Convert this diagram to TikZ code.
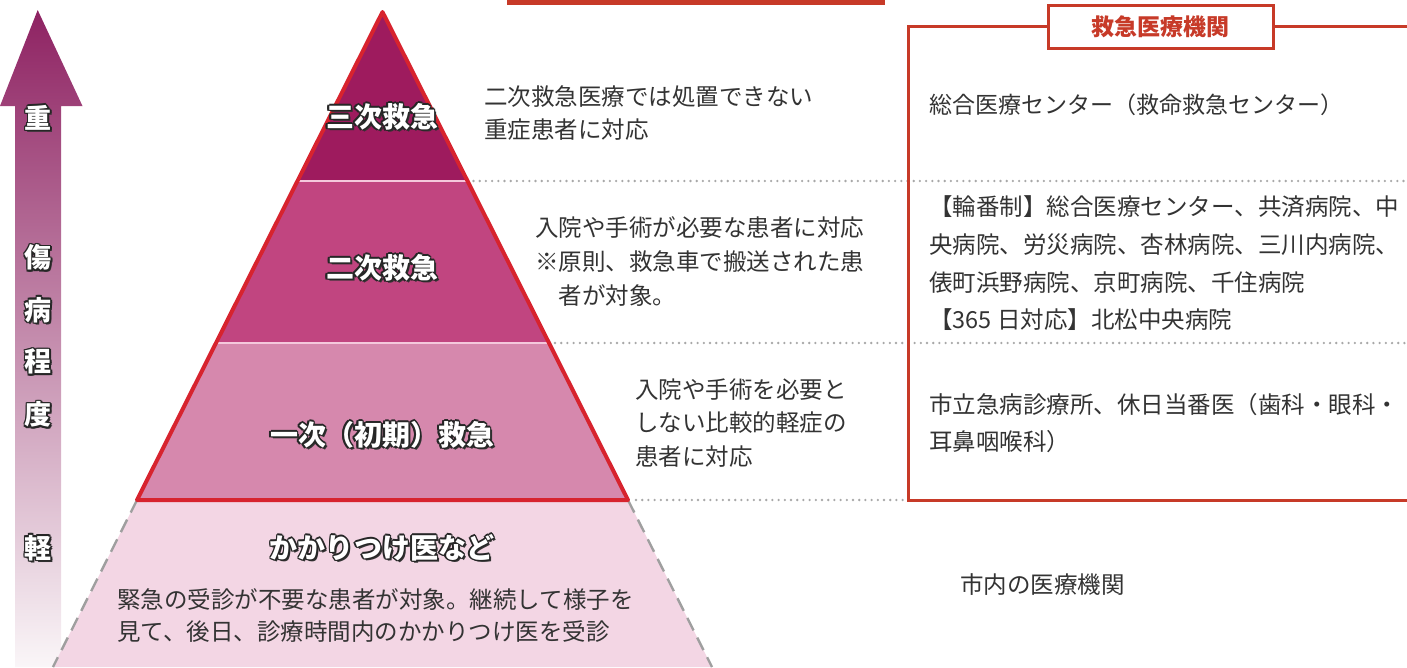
\documentclass[tikz,border=0pt]{standalone}
\usepackage{fontspec}
\newfontfamily\jp{Noto Sans CJK JP}
\usetikzlibrary{calc}
\definecolor{pyrred}{HTML}{D7232E}
\definecolor{boxred}{HTML}{C73A28}
\definecolor{tierA}{HTML}{9E1B5E}
\definecolor{tierB}{HTML}{C14580}
\definecolor{tierC}{HTML}{D688AD}
\definecolor{tierD}{HTML}{F3D6E4}
\definecolor{sepc}{HTML}{F4C8DC}
\definecolor{txt}{HTML}{333333}
\definecolor{arrtop}{HTML}{8E2262}
\definecolor{arrmid}{HTML}{BA7297}
\definecolor{arrbot}{HTML}{FAF6F8}
\definecolor{dotc}{HTML}{A8A8A8}
\newcommand\olbl[1]{{\setbox0=\hbox{#1}%
 \rlap{\color{black!80}\kern2pt\lower2pt\copy0}%
 \rlap{\color{black!85}\kern1.5pt\copy0}%
 \rlap{\color{black!85}\kern-1.5pt\copy0}%
 \rlap{\color{black!85}\raise1.5pt\copy0}%
 \rlap{\color{black!85}\lower1.5pt\copy0}%
 \rlap{\color{black!85}\kern1.1pt\raise1.1pt\copy0}%
 \rlap{\color{black!85}\kern-1.1pt\raise1.1pt\copy0}%
 \rlap{\color{black!85}\kern1.1pt\lower1.1pt\copy0}%
 \rlap{\color{black!85}\kern-1.1pt\lower1.1pt\copy0}%
 {\color{white}\box0}}}
\tikzset{
  tierlbl/.style={inner sep=0pt, font=\jp\bfseries\fontsize{28}{30}\selectfont},
  sidelbl/.style={inner sep=0pt, font=\jp\bfseries\fontsize{27}{29}\selectfont},
  body/.style={inner sep=0pt, anchor=west, align=left, text=txt},
  dotline/.style={dotc, line width=2.6pt, line cap=round, dash pattern=on 0pt off 6.2pt},
}
\begin{document}
\begin{tikzpicture}[x=1pt,y=-1pt]
\useasboundingbox (0,0) rectangle (1407,667);
% geometry of pyramid
\coordinate (A) at (382.5,12);
\coordinate (BL) at (137,500);
\coordinate (BR) at (628,500);
\coordinate (L1) at ($(A)!0.3463!(BL)$);
\coordinate (R1) at ($(A)!0.3463!(BR)$);
\coordinate (L2) at ($(A)!0.6783!(BL)$);
\coordinate (R2) at ($(A)!0.6783!(BR)$);
\coordinate (GL) at ($(A)!1.3422!(BL)$);
\coordinate (GR) at ($(A)!1.3422!(BR)$);
% left arrow
\shade[top color=arrtop, middle color=arrmid, bottom color=arrbot]
  (37.7,10) -- (82.5,106) -- (61,106) -- (61,667) -- (15,667) -- (15,106) -- (0,106) -- cycle;
\node[sidelbl] (s1) at (38,118) {\olbl{重}};
\node[sidelbl] (s2) at (38,258) {\olbl{傷}};
\node[sidelbl] (s3) at (38,310) {\olbl{病}};
\node[sidelbl] (s4) at (38,362) {\olbl{程}};
\node[sidelbl] (s5) at (38,415) {\olbl{度}};
\node[sidelbl] (s6) at (38,548) {\olbl{軽}};
% top bar
\fill[boxred] (507,0) rectangle (885,4.5);
% base region
\fill[tierD] (BL) -- (BR) -- (GR) -- (GL) -- cycle;
\draw[gray!75, line width=2.4pt, dash pattern=on 14pt off 8pt] (BL) -- (GL);
\draw[gray!75, line width=2.4pt, dash pattern=on 14pt off 8pt] (BR) -- (GR);
% tiers
\fill[tierA] (A) -- (R1) -- (L1) -- cycle;
\fill[tierB] (L1) -- (R1) -- (R2) -- (L2) -- cycle;
\fill[tierC] (L2) -- (R2) -- (BR) -- (BL) -- cycle;
\draw[sepc, line width=2pt] (L1) -- (R1);
\draw[sepc, line width=2pt] (L2) -- (R2);
\draw[pyrred, line width=4pt, line join=round] (A) -- (BR) -- (BL) -- cycle;
% dotted separators
\draw[dotline] ($(R1)+(6,0)$) -- (1407,181);
\draw[dotline] ($(R2)+(6,0)$) -- (1407,343);
\draw[dotline] ($(BR)+(8,0)$) -- (906,500);
% tier labels
\node[tierlbl] (t3) at (382,117) {\olbl{三次救急}};
\node[tierlbl] (t2) at (382,268) {\olbl{二次救急}};
\node[tierlbl] (t1) at (382,435) {\olbl{一次（初期）救急}};
\node[tierlbl] (t0) at (382,548) {\olbl{かかりつけ医など}};
% descriptions
\node[body, font=\jp\fontsize{23.5}{33}\selectfont] (d3) at (484,113.5)
  {二次救急医療では処置できない\\重症患者に対応};
\node[body, font=\jp\fontsize{23.5}{34}\selectfont] (d2) at (535,262)
  {入院や手術が必要な患者に対応\\※原則、救急車で搬送された患\\\hspace*{1em}者が対象。};
\node[body, font=\jp\fontsize{23.5}{33.5}\selectfont] (d1) at (635,423)
  {入院や手術を必要と\\しない比較的軽症の\\患者に対応};
\node[body, font=\jp\fontsize{23.5}{32}\selectfont] (d0) at (117,616)
  {緊急の受診が不要な患者が対象。継続して様子を\\見て、後日、診療時間内のかかりつけ医を受診};
% emergency institutions box
\node[draw=boxred, line width=3pt, fill=white, minimum width=225pt, minimum height=43pt, inner sep=0pt,
      text=boxred, font=\jp\bfseries\fontsize{23}{25}\selectfont] (title) at (1160.5,26.5) {救急医療機関};
\coordinate (boxTL) at (908,26.5);
\coordinate (boxBL) at (908,500);
\coordinate (boxBR) at (1410,500);
\coordinate (boxTR) at (1410,26.5);
\draw[boxred, line width=3pt] (title.west) -- (boxTL) -- (boxBL) -- (boxBR);
\draw[boxred, line width=3pt] (title.east) -- (boxTR);
\node[body, font=\jp\fontsize{23}{33}\selectfont] (r3) at (929,105)
  {総合医療センター（救命救急センター）};
\node[body, font=\jp\fontsize{23.5}{37.7}\selectfont] (r2) at (929,263.5)
  {【輪番制】総合医療センター、共済病院、中\\央病院、労災病院、杏林病院、三川内病院、\\俵町浜野病院、京町病院、千住病院\\【365 日対応】北松中央病院};
\node[body, font=\jp\fontsize{23.5}{37}\selectfont] (r1) at (929,423.5)
  {市立急病診療所、休日当番医（歯科・眼科・\\耳鼻咽喉科）};
\node[body, font=\jp\fontsize{23.5}{30}\selectfont] (r0) at (960,585) {市内の医療機関};
\end{tikzpicture}
\end{document}
